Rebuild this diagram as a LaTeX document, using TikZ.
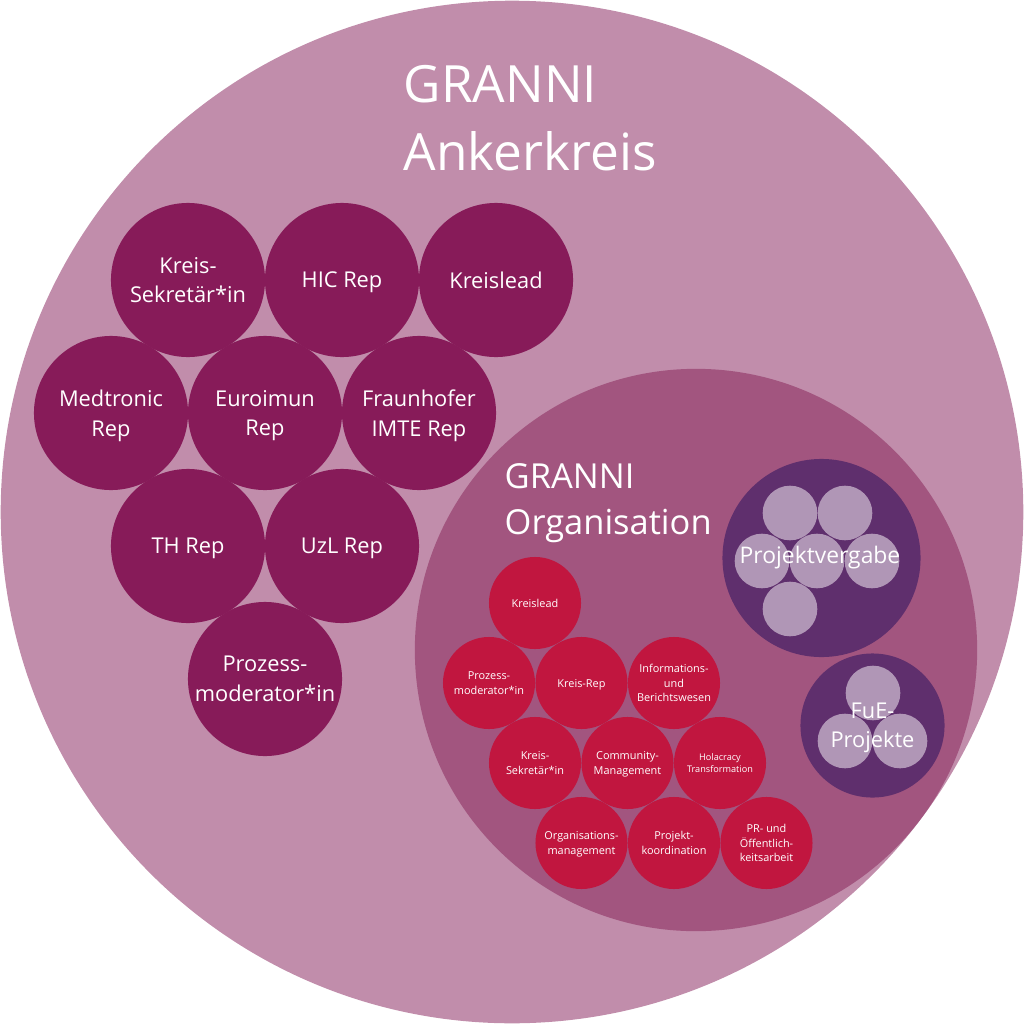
\documentclass[tikz,border=0pt]{standalone}
\usepackage{fontspec}
\setmainfont{Open Sans}
\definecolor{ankerbg}{HTML}{C18DAB}
\definecolor{orgbg}{HTML}{A2557F}
\definecolor{ankerdark}{HTML}{871B59}
\definecolor{orgred}{HTML}{C1163F}
\definecolor{projdark}{HTML}{5F2F6D}
\definecolor{projlight}{HTML}{B096B6}
\begin{document}
\begin{tikzpicture}[x=0.01cm,y=-0.01cm,
        ankerrole/.style={circle,fill=ankerdark,minimum size=1.54cm,inner sep=0pt,align=center,text=white,text depth=0pt,font=\fontsize{6.2}{8.5}\selectfont},
        orgrole/.style={circle,fill=orgred,minimum size=0.92cm,inner sep=0pt,align=center,text=white,text depth=0pt,font=\fontsize{3.1}{4.2}\selectfont},
        projrole/.style={circle,fill=projlight,minimum size=0.546cm,inner sep=0pt},
        headline/.style={anchor=base west,inner sep=0pt,text=white}]
        \useasboundingbox (0,0) rectangle (1024,1024);
        % outer circle
        \node[circle,fill=ankerbg,minimum size=10.22cm,inner sep=0pt] (anker) at (512,512) {};
        \node[headline,font=\fontsize{14.6}{19}\selectfont] (ankertitle1) at (403,102) {GRANNI};
        \node[headline,font=\fontsize{14.6}{19}\selectfont] (ankertitle2) at (403,170) {Ankerkreis};
        % roles of the anchor circle
        \node[ankerrole] (ksek) at (188,280) {Kreis-\\Sekretär*in};
        \node[ankerrole] (hic) at (342,280) {HIC Rep};
        \node[ankerrole] (klead) at (496,280) {Kreislead};
        \node[ankerrole] (medtronic) at (111,413) {Medtronic\\Rep};
        \node[ankerrole] (euroimun) at (265,413) {Euroimun\\Rep};
        \node[ankerrole] (fraunhofer) at (419,413) {Fraunhofer\\IMTE Rep};
        \node[ankerrole] (th) at (188,546) {TH Rep};
        \node[ankerrole] (uzl) at (342,546) {UzL Rep};
        \node[ankerrole] (pmod) at (265,679) {Prozess-\\moderator*in};
        % organisation circle
        \node[circle,fill=orgbg,minimum size=5.62cm,inner sep=0pt] (org) at (696,650) {};
        \node[headline,font=\fontsize{9.8}{13}\selectfont] (orgtitle1) at (504,488) {GRANNI};
        \node[headline,font=\fontsize{9.8}{13}\selectfont] (orgtitle2) at (504,534) {Organisation};
        \node[orgrole] (oklead) at (535,603) {Kreislead};
        \node[orgrole] (opmod) at (489,683) {Prozess-\\moderator*in};
        \node[orgrole] (orep) at (581.5,683) {Kreis-Rep};
        \node[orgrole] (oinfo) at (674,683) {Informations-\\und\\Berichtswesen};
        \node[orgrole] (oksek) at (535,763) {Kreis-\\Sekretär*in};
        \node[orgrole] (ocomm) at (627.5,763) {Community-\\Management};
        \node[orgrole,font=\fontsize{2.6}{3.5}\selectfont] (oholo) at (720,763) {Holacracy\\Transformation};
        \node[orgrole] (oorg) at (581.5,843) {Organisations-\\management};
        \node[orgrole] (okoord) at (674,843) {Projekt-\\koordination};
        \node[orgrole] (opr) at (766.5,843) {PR- und\\Öffentlich-\\keitsarbeit};
        % project circles
        \node[circle,fill=projdark,minimum size=1.98cm,inner sep=0pt] (vergabe) at (821.5,558) {};
        \node[projrole] (pv1) at (790,513) {};
        \node[projrole] (pv2) at (845,513) {};
        \node[projrole] (pv3) at (762,561) {};
        \node[projrole] (pv4) at (817,561) {};
        \node[projrole] (pv5) at (872,561) {};
        \node[projrole] (pv6) at (790,609) {};
        \node[text=white,inner sep=0pt,font=\fontsize{6.5}{8.3}\selectfont] (vergabetext) at (820,558) {Projektvergabe};
        \node[circle,fill=projdark,minimum size=1.44cm,inner sep=0pt] (fue) at (872.5,725.5) {};
        \node[projrole] (fue1) at (873,693) {};
        \node[projrole] (fue2) at (845,741) {};
        \node[projrole] (fue3) at (900,741) {};
        \node[text=white,inner sep=0pt,align=center,text depth=0pt,font=\fontsize{6.2}{8.25}\selectfont] (fuetext) at (872.5,725.5) {FuE-\\Projekte};
\end{tikzpicture}
\end{document}
